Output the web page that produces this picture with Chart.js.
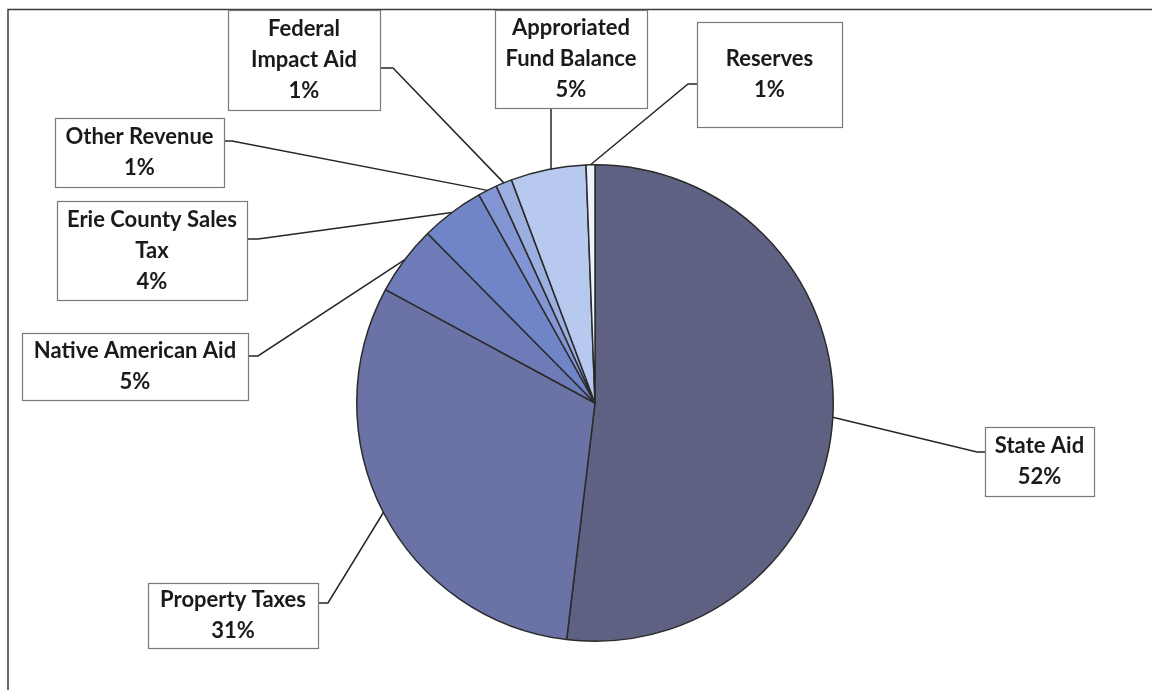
<!DOCTYPE html>
<html>
<head>
<meta charset="utf-8">
<title>Revenue Sources</title>
<script src="https://cdn.jsdelivr.net/npm/chart.js@4.4.0/dist/chart.umd.min.js"></script>
<style>
    html, body { margin: 0; padding: 0; background: #ffffff; }
    #wrap { width: 1152px; height: 690px; }
</style>
</head>
<body>
<div id="wrap"><canvas id="revenueChart" width="1152" height="690"></canvas></div>
<script>
// revenue sources, clockwise from 12 o'clock
const categories = ['State Aid', 'Property Taxes', 'Native American Aid', 'Erie County Sales Tax',
    'Other Revenue', 'Federal Impact Aid', 'Approriated Fund Balance', 'Reserves'];
const shares = [51.9, 31.0, 4.7, 4.3, 1.3, 1.1, 5.1, 0.6];
// how each category name is wrapped inside its label box
const labelLines = [
    ['State Aid'],
    ['Property Taxes'],
    ['Native American Aid'],
    ['Erie County Sales', 'Tax'],
    ['Other Revenue'],
    ['Federal', 'Impact Aid'],
    ['Approriated', 'Fund Balance'],
    ['Reserves']
];
const sliceColors = ['#5e6181', '#6a72a6', '#6d7bb8', '#7084c8', '#8395d4', '#9bafe0', '#b8c9f0', '#eef3fb'];

// box placement for each label: [left, top, right, bottom], side the leader leaves from, elbow
const boxLayout = [
    { box: [985, 427, 1094, 496], side: 'left', at: 452, elbow: 977 },
    { box: [148, 583, 318, 648], side: 'right', at: 603, elbow: 328 },
    { box: [22, 333, 248, 400], side: 'right', at: 356, elbow: 258 },
    { box: [57, 201, 247, 300], side: 'right', at: 239, elbow: 258 },
    { box: [55, 118, 224, 187], side: 'right', at: 141, elbow: 232 },
    { box: [228, 10, 380, 110], side: 'right', at: 68, elbow: 393 },
    { box: [495, 10, 647, 108], side: 'bottom', at: 551, elbow: null },
    { box: [697, 22, 842, 127], side: 'left', at: 84, elbow: 688 }
];

const total = shares.reduce((a, b) => a + b, 0);

const frameAndLabels = {
    id: 'frameAndLabels',
    beforeDraw(chart) {
        const ctx = chart.ctx;
        ctx.save();
        ctx.fillStyle = '#ffffff';
        ctx.fillRect(0, 0, chart.width, chart.height);
        ctx.strokeStyle = '#3a3a3a';
        ctx.lineWidth = 1.5;
        ctx.beginPath();
        ctx.moveTo(chart.width, 9.5);
        ctx.lineTo(8, 9.5);
        ctx.lineTo(8, chart.height);
        ctx.stroke();
        ctx.restore();
    },
    afterDatasetsDraw(chart) {
        const ctx = chart.ctx;
        const meta = chart.getDatasetMeta(0);
        ctx.save();
        meta.data.forEach((arc, i) => {
            const p = arc.getProps(['x', 'y', 'startAngle', 'endAngle', 'outerRadius'], true);
            const mid = (p.startAngle + p.endAngle) / 2;
            const ax = p.x + Math.cos(mid) * p.outerRadius;
            const ay = p.y + Math.sin(mid) * p.outerRadius;
            const lay = boxLayout[i];
            const [l, t, r, b] = lay.box;

            // leader line
            ctx.strokeStyle = '#262626';
            ctx.lineWidth = 1.5;
            ctx.beginPath();
            if (lay.side === 'bottom') {
                ctx.moveTo(lay.at, b);
                ctx.lineTo(lay.at, ay);
            } else {
                const sx = lay.side === 'left' ? l : r;
                ctx.moveTo(sx, lay.at);
                ctx.lineTo(lay.elbow, lay.at);
                ctx.lineTo(ax, ay);
            }
            ctx.stroke();

            // label box
            ctx.fillStyle = '#ffffff';
            ctx.fillRect(l, t, r - l, b - t);
            ctx.strokeStyle = '#7a7a7a';
            ctx.lineWidth = 1.2;
            ctx.strokeRect(l + 0.5, t + 0.5, r - l, b - t);

            // text
            const pct = Math.round(shares[i] / total * 100) + '%';
            const lines = labelLines[i].concat([pct]);
            const lh = 31;
            const cx = (l + r) / 2;
            const cy = (t + b) / 2;
            ctx.fillStyle = '#1a1a1a';
            ctx.font = 'bold 22px Lato';
            ctx.textAlign = 'center';
            ctx.textBaseline = 'middle';
            lines.forEach((txt, k) => {
                ctx.fillText(txt, cx, cy + (k - (lines.length - 1) / 2) * lh);
            });
        });
        ctx.restore();
    }
};

new Chart(document.getElementById('revenueChart'), {
    type: 'pie',
    data: {
        labels: categories,
        datasets: [{
            data: shares,
            backgroundColor: sliceColors,
            borderColor: '#2b2b2b',
            borderWidth: 1.5
        }]
    },
    options: {
        responsive: false,
        animation: false,
        layout: {
            padding: { left: 356, right: 318, top: 164, bottom: 48 }
        },
        plugins: {
            legend: { display: false },
            tooltip: { enabled: false }
        }
    },
    plugins: [frameAndLabels]
});
</script>
</body>
</html>
